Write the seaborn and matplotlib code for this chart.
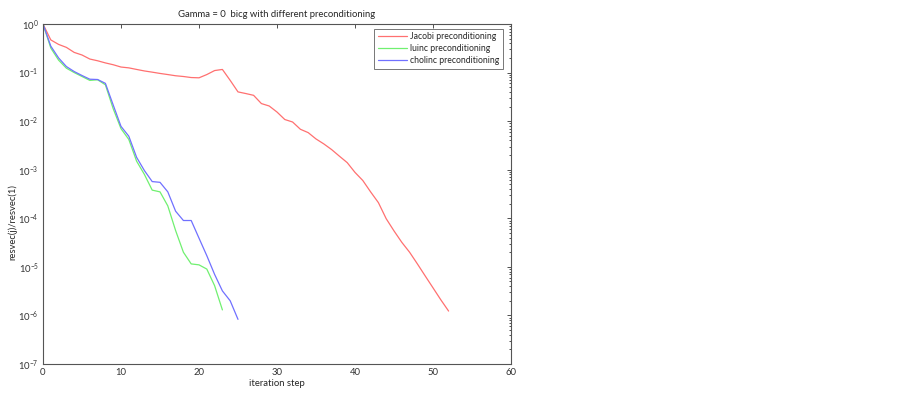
import numpy as np
import pandas as pd
import matplotlib
matplotlib.use("Agg")
import matplotlib.pyplot as plt
import seaborn as sns
from matplotlib.ticker import LogLocator, FixedLocator, NullFormatter

# ---- data ----
jacobi = [1.0, 0.47, 0.38, 0.33, 0.26, 0.23, 0.19, 0.175, 0.158, 0.145, 0.13,
          0.125, 0.116, 0.108, 0.102, 0.096, 0.091, 0.086, 0.083, 0.079, 0.078,
          0.091, 0.11, 0.116, 0.069, 0.040, 0.037, 0.034, 0.023, 0.0205, 0.0154,
          0.0108, 0.0096, 0.0068, 0.0058, 0.0043, 0.0034, 0.0026, 0.0019, 0.0014,
          0.00088, 0.0006, 0.00035, 0.00021, 9.8e-5, 5.5e-5, 3.2e-5, 2.0e-5,
          1.15e-5, 6.5e-6, 3.7e-6, 2.1e-6, 1.23e-6]
luinc = [1.0, 0.32, 0.18, 0.123, 0.1, 0.083, 0.069, 0.071, 0.056, 0.018, 0.0070,
         0.0042, 0.0015, 0.0008, 0.00038, 0.00035, 0.00018, 5.6e-5, 2.0e-5,
         1.15e-5, 1.1e-5, 9e-6, 4.1e-6, 1.3e-6]
cholinc = [1.0, 0.35, 0.2, 0.133, 0.105, 0.087, 0.073, 0.072, 0.06, 0.0215, 0.0078,
           0.0049, 0.0018, 0.00096, 0.00057, 0.00055, 0.00035, 0.00014, 9e-5, 9e-5,
           3.9e-5, 1.7e-5, 7e-6, 3.2e-6, 2.0e-6, 8.3e-7]
labels = ["Jacobi preconditioning", "luinc preconditioning", "cholinc preconditioning"]
colors = ["#ff7070", "#70f070", "#7070ff"]
x_ticks = [0, 10, 20, 30, 40, 50, 60]

frames = []
for lab, vals in zip(labels, [jacobi, luinc, cholinc]):
    frames.append(pd.DataFrame({"step": np.arange(len(vals)), "res": vals, "method": lab}))
df = pd.concat(frames, ignore_index=True)

sns.set_theme(style="white")
plt.rcParams["font.family"] = ["Lato", "DejaVu Sans"]
FS = 6.8

fig = plt.figure(figsize=(9.02, 3.93), dpi=100)
L, R, T, B = 43, 511, 24, 364
ax = fig.add_axes([L / 902, 1 - B / 393, (R - L) / 902, (B - T) / 393])

sns.lineplot(data=df, x="step", y="res", hue="method", palette=colors,
             hue_order=labels, ax=ax, linewidth=0.9, legend=True)
ax.set_yscale("log")
ax.set_xlim(0, 60)
ax.set_ylim(1e-7, 1)
ax.xaxis.set_major_locator(FixedLocator(x_ticks))
ax.yaxis.set_major_locator(LogLocator(base=10, numticks=10))
ax.yaxis.set_minor_locator(LogLocator(base=10, subs=np.arange(2, 10), numticks=10))
ax.yaxis.set_minor_formatter(NullFormatter())
ax.xaxis.get_offset_text().set_visible(False)
ax.yaxis.get_offset_text().set_visible(False)

ax.tick_params(axis="both", which="both", direction="in", top=True, right=True,
               labelsize=FS, colors="#333333", length=3, width=0.6)
ax.tick_params(axis="both", which="minor", length=1.5)
ax.tick_params(axis="x", which="minor", top=False, bottom=False)
ax.tick_params(axis="both", pad=3)
for sp in ax.spines.values():
    sp.set_color("#555555")
    sp.set_linewidth(0.8)

ax.set_title("Gamma = 0  bicg with different preconditioning", fontsize=FS, pad=5)
ax.set_xlabel("iteration step", fontsize=FS, labelpad=1)
ax.set_ylabel("resvec(j)/resvec(1)", fontsize=FS)
ax.yaxis.set_label_coords((17 - L) / (R - L), (B - 222) / (B - T))

leg = ax.legend(loc="upper right", fontsize=6.2, frameon=True, fancybox=False,
                edgecolor="#555555", handlelength=3.4, borderaxespad=0,
                bbox_to_anchor=((503 - L) / (R - L), (B - 29) / (B - T)),
                labelspacing=0.35, borderpad=0.4, handletextpad=0.4)
leg.get_frame().set_linewidth(0.7)

fig.savefig("out.png", dpi=100)
